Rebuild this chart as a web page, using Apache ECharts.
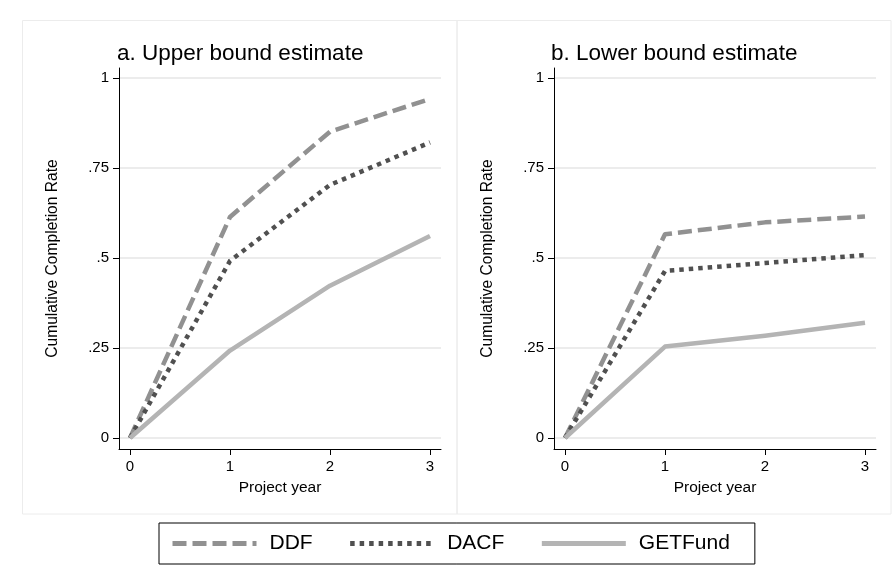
<!DOCTYPE html>
<html>
<head>
<meta charset="utf-8">
<script src="https://cdn.jsdelivr.net/npm/echarts@6/dist/echarts.min.js"></script>
<style>
  html, body { margin: 0; padding: 0; background: #ffffff; }
  #chart { width: 893px; height: 586px; }
</style>
</head>
<body>
<div id="chart"></div>
<script>
// Project years on the horizontal axis
const years = [0, 1, 2, 3];
const yTicks = [0, 0.25, 0.5, 0.75, 1];
const seriesNames = ['DDF', 'DACF', 'GETFund'];

// a. Upper bound estimate
const upperDDF = [0, 0.614, 0.851, 0.942];
const upperDACF = [0, 0.492, 0.703, 0.821];
const upperGETFund = [0, 0.243, 0.423, 0.561];

// b. Lower bound estimate
const lowerDDF = [0, 0.566, 0.599, 0.615];
const lowerDACF = [0, 0.464, 0.486, 0.508];
const lowerGETFund = [0, 0.254, 0.284, 0.320];

const FONT = '"Liberation Sans", Arial, Helvetica, sans-serif';

const styles = {
  DDF: { color: '#919191', width: 4.5, type: [14, 6] },
  DACF: { color: '#505050', width: 4.5, type: [4.5, 5] },
  GETFund: { color: '#b4b4b4', width: 4.5, type: 'solid' }
};

function tickLabel(v) {
  if (v === 0) return '0';
  if (v === 1) return '1';
  return String(v).replace(/^0/, '');
}

function xAxisFor(gridIndex) {
  return {
    type: 'value', gridIndex: gridIndex,
    min: -0.11, max: 3.11,
    name: 'Project year', nameLocation: 'middle', nameGap: 31,
    nameTextStyle: { fontFamily: FONT, fontSize: 15.5, color: '#000' },
    axisLine: { show: true, onZero: false, lineStyle: { color: '#000', width: 1 } },
    axisTick: { show: true, length: 6, customValues: years, lineStyle: { color: '#000' } },
    axisLabel: { customValues: years, margin: 10, fontFamily: FONT, fontSize: 15, color: '#000' },
    splitLine: { show: false }
  };
}

function yAxisFor(gridIndex) {
  return {
    type: 'value', gridIndex: gridIndex,
    min: -11 / 360, max: 1 + 10 / 360,
    name: 'Cumulative Completion Rate', nameLocation: 'middle', nameGap: 58,
    nameTextStyle: { fontFamily: FONT, fontSize: 15.6, color: '#000' },
    axisLine: { show: true, onZero: false, lineStyle: { color: '#000', width: 1 } },
    axisTick: { show: true, length: 6, customValues: yTicks, lineStyle: { color: '#000' } },
    axisLabel: { customValues: yTicks, margin: 10, fontFamily: FONT, fontSize: 15, color: '#000', formatter: tickLabel },
    splitLine: { show: true, lineStyle: { color: '#e6e6e6', width: 1.5 } }
  };
}

function lineSeries(name, values, idx) {
  const s = styles[name];
  return {
    name: name, type: 'line',
    xAxisIndex: idx, yAxisIndex: idx,
    data: years.map((x, i) => [x, values[i]]),
    symbol: 'none', silent: true, animation: false,
    lineStyle: { color: s.color, width: s.width, type: s.type, cap: 'butt', join: 'round' },
    itemStyle: { color: s.color }
  };
}

const chart = echarts.init(document.getElementById('chart'), null, { renderer: 'canvas' });

chart.setOption({
  backgroundColor: '#ffffff',
  animation: false,
  graphic: [
    { type: 'rect', shape: { x: 22.5, y: 20.5, width: 434.5, height: 493.5 },
      style: { fill: 'none', stroke: '#ececec', lineWidth: 1 }, silent: true },
    { type: 'rect', shape: { x: 457, y: 20.5, width: 434, height: 493.5 },
      style: { fill: 'none', stroke: '#ececec', lineWidth: 1 }, silent: true }
  ],
  title: [
    { text: 'a. Upper bound estimate', left: 112, top: 37,
      textStyle: { fontFamily: FONT, fontSize: 22.5, fontWeight: 'normal', color: '#000' } },
    { text: 'b. Lower bound estimate', left: 546, top: 37,
      textStyle: { fontFamily: FONT, fontSize: 22.5, fontWeight: 'normal', color: '#000' } }
  ],
  legend: {
    data: seriesNames,
    left: 159, top: 523,
    orient: 'horizontal',
    itemWidth: 84, itemHeight: 14, itemGap: 35,
    padding: [10, 25, 10, 11],
    borderColor: '#000', borderWidth: 1,
    itemStyle: { opacity: 0 },
    lineStyle: { width: 5 },
    textStyle: { fontFamily: FONT, fontSize: 21, color: '#000', padding: [0, 0, 0, 8] },
    selectedMode: false
  },
  grid: [
    { left: 119, top: 68, width: 322, height: 381 },
    { left: 554, top: 68, width: 322, height: 381 }
  ],
  xAxis: [xAxisFor(0), xAxisFor(1)],
  yAxis: [yAxisFor(0), yAxisFor(1)],
  series: [
    lineSeries('DDF', upperDDF, 0),
    lineSeries('DACF', upperDACF, 0),
    lineSeries('GETFund', upperGETFund, 0),
    lineSeries('DDF', lowerDDF, 1),
    lineSeries('DACF', lowerDACF, 1),
    lineSeries('GETFund', lowerGETFund, 1)
  ]
});
</script>
</body>
</html>
